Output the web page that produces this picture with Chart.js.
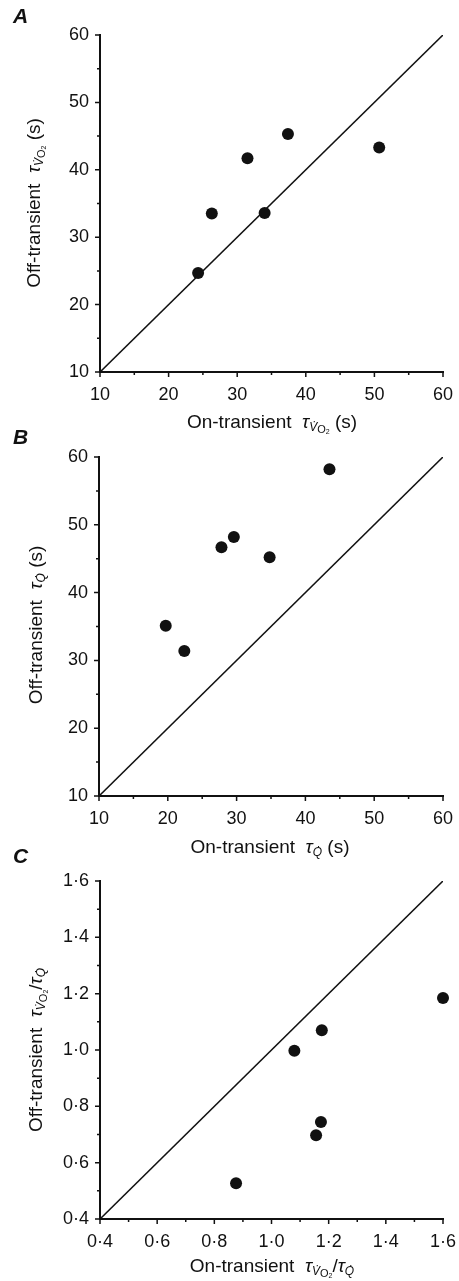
<!DOCTYPE html>
<html>
<head>
<meta charset="utf-8">
<script src="https://cdn.jsdelivr.net/npm/chart.js@4/dist/chart.umd.min.js"></script>
<style>
  body { margin: 0; background: #fff; }
  canvas { position: absolute; left: 0; }
</style>
</head>
<body>
<canvas id="grafA" width="459" height="440" style="top:0"></canvas>
<canvas id="grafB" width="459" height="440" style="top:420px"></canvas>
<canvas id="grafC" width="459" height="441" style="top:840px"></canvas>
<script>
// panel A: tau VO2
const onVO2 = [24.3, 26.3, 31.5, 34.0, 37.4, 50.7];
const offVO2 = [24.7, 33.5, 41.7, 33.6, 45.3, 43.3];
// panel B: tau Q
const onQ = [19.7, 22.4, 27.8, 29.6, 34.8, 43.5];
const offQ = [35.1, 31.4, 46.7, 48.2, 45.2, 58.2];
// panel C: ratio
const onRatio = [0.876, 1.08, 1.176, 1.173, 1.156, 1.6];
const offRatio = [0.527, 0.997, 1.07, 0.744, 0.697, 1.185];

// line of identity
const identAB = [10, 60];
const identC = [0.4, 1.6];

// ticks
const ticksAB = [10, 20, 30, 40, 50, 60];
const minorAB = [15, 25, 35, 45, 55];
const ticksC = [0.4, 0.6, 0.8, 1.0, 1.2, 1.4, 1.6];
const minorC = [0.5, 0.7, 0.9, 1.1, 1.3, 1.5];

const FONT = "'Liberation Sans', Arial, Helvetica, sans-serif";
const INK = "#111";

// [text, size factor, baseline shift, italic]
const tituloXA = [["On-transient  ", 1, 0], ["τ", 1, 0, 1], ["V̇", 0.65, 5, 1], ["O", 0.58, 7], ["2", 0.4, 9], [" (s)", 1, 0]];
const tituloYA = [["Off-transient  ", 1, 0], ["τ", 1, 0, 1], ["V̇", 0.65, 5, 1], ["O", 0.58, 7], ["2", 0.4, 9], [" (s)", 1, 0]];
const tituloXB = [["On-transient  ", 1, 0], ["τ", 1, 0, 1], ["Q̇", 0.65, 5, 1], [" (s)", 1, 0]];
const tituloYB = [["Off-transient  ", 1, 0], ["τ", 1, 0, 1], ["Q̇", 0.65, 5, 1], [" (s)", 1, 0]];
const tituloXC = [["On-transient  ", 1, 0], ["τ", 1, 0, 1], ["V̇", 0.65, 5, 1], ["O", 0.58, 7], ["2", 0.4, 9], ["/", 1, 0], ["τ", 1, 0, 1], ["Q̇", 0.65, 5, 1]];
const tituloYC = [["Off-transient  ", 1, 0], ["τ", 1, 0, 1], ["V̇", 0.65, 5, 1], ["O", 0.58, 7], ["2", 0.4, 9], ["/", 1, 0], ["τ", 1, 0, 1], ["Q̇", 0.65, 5, 1]];

function fonte(p, size) {
  return (p[3] ? "italic " : "") + Math.round(size * p[1]) + "px " + FONT;
}

function desenharTexto(ctx, parts, size) {
  let w = 0;
  parts.forEach(p => { ctx.font = fonte(p, size); w += ctx.measureText(p[0]).width; });
  let cx = -w / 2;
  parts.forEach(p => {
    ctx.font = fonte(p, size);
    ctx.fillText(p[0], cx, p[2]);
    cx += ctx.measureText(p[0]).width;
  });
}

const decor = {
  id: "decor",
  afterDraw(chart, args, o) {
    const ctx = chart.ctx;
    const { x, y } = chart.scales;
    ctx.save();
    ctx.strokeStyle = INK;
    ctx.lineWidth = 1.5;
    ctx.beginPath();
    const marca = (v, len) => {
      const px = x.getPixelForValue(v);
      ctx.moveTo(px, x.top); ctx.lineTo(px, x.top + len);
      const py = y.getPixelForValue(v);
      ctx.moveTo(y.right, py); ctx.lineTo(y.right - len, py);
    };
    o.major.forEach(v => marca(v, 5));
    o.minor.forEach(v => marca(v, 3));
    ctx.stroke();

    ctx.fillStyle = INK;
    ctx.textBaseline = "middle";
    ctx.font = "italic bold 21px " + FONT;
    ctx.fillText(o.letra, 13, o.letraY);

    ctx.save();
    ctx.translate(o.xt[0], o.xt[1]);
    desenharTexto(ctx, o.tituloX, 18.5);
    ctx.restore();

    ctx.save();
    ctx.translate(o.yt[0], o.yt[1]);
    ctx.rotate(-Math.PI / 2);
    desenharTexto(ctx, o.tituloY, 18.5);
    ctx.restore();
    ctx.restore();
  }
};

function criarGrafico(id, xs, ys, ident, ticks, minor, fmt, lay, extra) {
  const pontos = xs.map((v, i) => ({ x: v, y: ys[i] }));
  const linha = ident.map(v => ({ x: v, y: v }));
  const eixo = (isX) => ({
    type: "linear",
    min: ticks[0],
    max: ticks[ticks.length - 1],
    afterBuildTicks: s => { s.ticks = ticks.map(v => ({ value: v })); },
    afterFit: s => {
      if (isX) s.height = lay.xh; else s.width = lay.yw;
      s.paddingLeft = 0; s.paddingRight = 0;
      s.paddingTop = 0; s.paddingBottom = 0;
    },
    grid: { display: true, drawOnChartArea: false, drawTicks: false },
    border: { display: true, color: INK, width: 2 },
    ticks: {
      color: INK,
      padding: isX ? 12 : 11,
      font: { family: FONT, size: 18 },
      callback: v => fmt(v)
    }
  });

  new Chart(document.getElementById(id), {
    type: "scatter",
    data: {
      datasets: [
        { data: pontos, pointRadius: 6, pointBackgroundColor: INK, pointBorderWidth: 0, clip: false },
        { data: linha, showLine: true, borderColor: INK, borderWidth: 1.6, pointRadius: 0 }
      ]
    },
    options: {
      responsive: false,
      animation: false,
      events: [],
      layout: { padding: { top: lay.top, right: lay.right, left: 0, bottom: 0 } },
      scales: { x: eixo(true), y: eixo(false) },
      plugins: {
        legend: { display: false },
        tooltip: { enabled: false },
        decor: Object.assign({ major: ticks, minor }, extra)
      }
    },
    plugins: [decor]
  });
}

const inteiro = v => String(Math.round(v));
const ponto = v => v.toFixed(1).replace(".", "·");

criarGrafico("grafA", onVO2, offVO2, identAB, ticksAB, minorAB, inteiro,
  { top: 35, right: 16, xh: 68, yw: 100 },
  { letra: "A", letraY: 17, xt: [272, 423], yt: [35, 203], tituloX: tituloXA, tituloY: tituloYA });

criarGrafico("grafB", onQ, offQ, identAB, ticksAB, minorAB, inteiro,
  { top: 37, right: 16, xh: 64, yw: 99 },
  { letra: "B", letraY: 18, xt: [270, 428], yt: [37, 205], tituloX: tituloXB, tituloY: tituloYB });

criarGrafico("grafC", onRatio, offRatio, identC, ticksC, minorC, ponto,
  { top: 41, right: 16, xh: 62, yw: 100 },
  { letra: "C", letraY: 17, xt: [272, 427], yt: [37, 210], tituloX: tituloXC, tituloY: tituloYC });
</script>
</body>
</html>
